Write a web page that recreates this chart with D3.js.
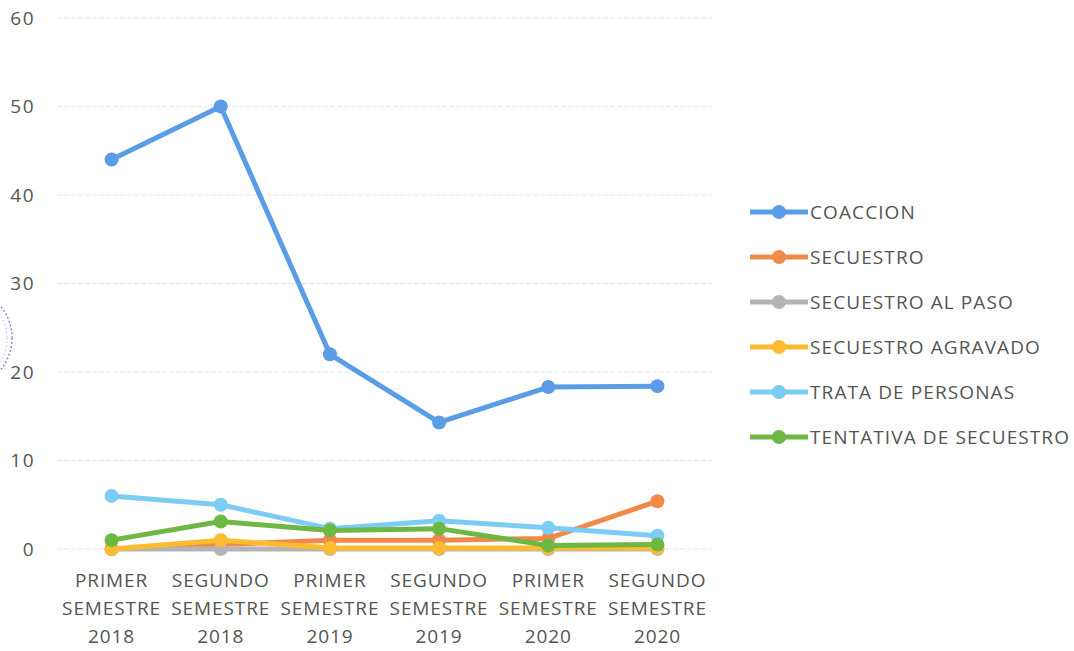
<!DOCTYPE html>
<html>
<head>
<meta charset="utf-8">
<script src="https://cdn.jsdelivr.net/npm/d3@7"></script>
<style>
  html, body { margin: 0; padding: 0; background: #ffffff; }
  svg { display: block; }
  text { font-family: "Open Sans", "Noto Sans", sans-serif; fill: #555555; }
</style>
</head>
<body>
<svg id="chart" width="1074" height="651"></svg>
<script>
// Semesters shown on the x axis (three lines each)
const categories = [
  ["PRIMER", "SEMESTRE", "2018"],
  ["SEGUNDO", "SEMESTRE", "2018"],
  ["PRIMER", "SEMESTRE", "2019"],
  ["SEGUNDO", "SEMESTRE", "2019"],
  ["PRIMER", "SEMESTRE", "2020"],
  ["SEGUNDO", "SEMESTRE", "2020"]
];
const yTicks = [0, 10, 20, 30, 40, 50, 60];

const seriesNames = [
  "COACCION", "SECUESTRO", "SECUESTRO AL PASO",
  "SECUESTRO AGRAVADO", "TRATA DE PERSONAS", "TENTATIVA DE SECUESTRO"
];
const coaccion   = [44, 50, 22, 14.3, 18.3, 18.4];
const secuestro  = [0, 0.5, 1, 1, 1.2, 5.4];
const alPaso     = [0, 0, 0, 0, 0, 0];
const agravado   = [0, 1, 0.1, 0.1, 0.1, 0.1];
const trata      = [6, 5, 2.3, 3.2, 2.4, 1.5];
const tentativa  = [1, 3.1, 2.1, 2.3, 0.4, 0.5];
const seriesColors = ["#5a9de6", "#f08a4b", "#b4b4b4", "#fdbb2f", "#7cccf4", "#6cb843"];

const seriesData = [coaccion, secuestro, alPaso, agravado, trata, tentativa];

const svg = d3.select("#chart");
const plot = { left: 57, right: 712, top: 18, bottom: 549 };

const x = d3.scaleBand()
  .domain(d3.range(categories.length))
  .range([plot.left, plot.right]);
const y = d3.scaleLinear()
  .domain([0, 60])
  .range([plot.bottom, plot.top]);

// Faint horizontal gridlines
svg.append("g")
  .selectAll("line")
  .data(yTicks)
  .join("line")
  .attr("x1", plot.left)
  .attr("x2", plot.right)
  .attr("y1", d => y(d))
  .attr("y2", d => y(d))
  .attr("stroke", "#e6e8e8")
  .attr("stroke-width", 1)
  .attr("stroke-dasharray", "5 2");

// Y axis labels
const yAxis = svg.append("g")
  .attr("transform", `translate(${plot.left - 22},0)`)
  .call(d3.axisLeft(y).tickValues(yTicks).tickSize(0).tickPadding(0));
yAxis.select(".domain").remove();
yAxis.selectAll("text")
  .attr("font-size", 19)
  .attr("letter-spacing", 1.5)
  .attr("font-family", "Open Sans, Noto Sans, sans-serif")
  .attr("fill", "#555555");

// X axis category labels
const xAxis = svg.append("g")
  .attr("transform", `translate(0,${plot.bottom})`)
  .call(d3.axisBottom(x).tickSize(0).tickFormat(() => ""));
xAxis.select(".domain").remove();
xAxis.selectAll(".tick").each(function (d) {
  const t = d3.select(this).select("text")
    .attr("font-size", 19)
    .attr("letter-spacing", 0.9)
    .attr("fill", "#555555")
    .attr("y", 0)
    .attr("dy", null);
  categories[d].forEach((line, i) => {
    t.append("tspan")
      .attr("x", 0)
      .attr("y", 38 + i * 28)
      .text(line);
  });
});

// Lines and markers
const line = d3.line()
  .x((d, i) => x(i) + x.bandwidth() / 2)
  .y(d => y(d));

seriesData.forEach((vals, s) => {
  const g = svg.append("g");
  g.append("path")
    .datum(vals)
    .attr("d", line)
    .attr("fill", "none")
    .attr("stroke", seriesColors[s])
    .attr("stroke-width", 5)
    .attr("stroke-linejoin", "round");
  g.selectAll("circle")
    .data(vals)
    .join("circle")
    .attr("cx", (d, i) => x(i) + x.bandwidth() / 2)
    .attr("cy", d => y(d))
    .attr("r", 7)
    .attr("fill", seriesColors[s]);
});

// Legend
const legend = svg.append("g").attr("transform", "translate(750,212)");
seriesNames.forEach((name, i) => {
  const row = legend.append("g").attr("transform", `translate(0,${i * 45})`);
  row.append("line")
    .attr("x1", 0).attr("x2", 58)
    .attr("y1", 0).attr("y2", 0)
    .attr("stroke", seriesColors[i])
    .attr("stroke-width", 5);
  row.append("circle")
    .attr("cx", 29).attr("cy", 0).attr("r", 7)
    .attr("fill", seriesColors[i]);
  row.append("text")
    .attr("x", 60).attr("y", 0)
    .attr("dy", "0.35em")
    .attr("font-size", 19)
    .attr("letter-spacing", 1.1)
    .text(name);
});

// Partial ink stamp at the left margin
svg.append("circle")
  .attr("cx", -38).attr("cy", 338).attr("r", 50)
  .attr("fill", "none")
  .attr("stroke", "#5a5ad8")
  .attr("stroke-width", 1.4)
  .attr("stroke-dasharray", "2 2")
  .attr("opacity", 0.75);
svg.append("circle")
  .attr("cx", -38).attr("cy", 338).attr("r", 45)
  .attr("fill", "none")
  .attr("stroke", "#5a5ad8")
  .attr("stroke-width", 1)
  .attr("stroke-dasharray", "1 3")
  .attr("opacity", 0.6);
</script>
</body>
</html>
